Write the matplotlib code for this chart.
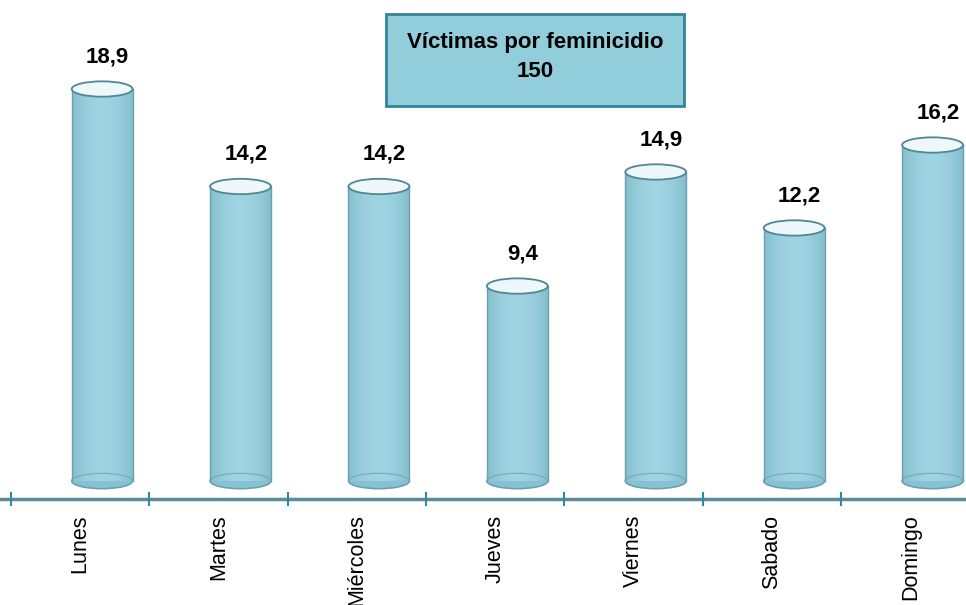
import numpy as np
import matplotlib
matplotlib.use("Agg")
import matplotlib.pyplot as plt
from matplotlib.patches import Ellipse, Rectangle
from matplotlib import font_manager

# data
days = ["Lunes", "Martes", "Miércoles", "Jueves", "Viernes", "Sabado", "Domingo"]
values = [18.9, 14.2, 14.2, 9.4, 14.9, 12.2, 16.2]
labels = ["18,9", "14,2", "14,2", "9,4", "14,9", "12,2", "16,2"]
box_title = "Víctimas por feminicidio\n150"

# narrow font if available
names = {f.name for f in font_manager.fontManager.ttflist}
narrow = "Liberation Sans Narrow" if "Liberation Sans Narrow" in names else "Liberation Sans"
plt.rcParams['font.family'] = [narrow, 'DejaVu Sans']

fig = plt.figure(figsize=(9.66, 6.05), dpi=100)
ax = fig.add_axes([0, 0, 1, 1])

# pixel layout -> data limits
px_per_cat = 138.4
px_per_unit = 20.74
x0_px = 80.0
y0_px = 481.0
ax.set_xlim(-x0_px / px_per_cat, (966 - x0_px) / px_per_cat)
ax.set_ylim(-(605 - y0_px) / px_per_unit, y0_px / px_per_unit)

x = np.arange(len(days))
off = 0.16       # cylinders sit a bit right of the category centre
bw = 0.44        # cylinder width
eh = 0.74        # ellipse height (in value units)

edge = "#6d9fad"
body = "#8ccadb"

# gradient for the cylinder bodies
grad = np.linspace(0, 1, 200)
shade = np.sin(np.pi * (grad * 0.9 + 0.05)) ** 0.7
cols = np.zeros((1, 200, 3))
base = np.array([0x78, 0xb4, 0xc4]) / 255
light = np.array([0x9f, 0xd4, 0xe2]) / 255
for i, s in enumerate(shade):
    cols[0, i] = base + (light - base) * s

bars = ax.bar(x + off, values, width=bw, color=body, edgecolor="none", zorder=2)
for b, v in zip(bars, values):
    im = ax.imshow(cols, extent=(b.get_x(), b.get_x() + b.get_width(), 0, v),
                   aspect="auto", zorder=2, interpolation="bilinear")
    im.set_clip_path(b)
    cx = b.get_x() + b.get_width() / 2
    # side lines
    ax.plot([b.get_x(), b.get_x()], [0, v], color=edge, lw=1.0, zorder=3)
    ax.plot([b.get_x() + bw, b.get_x() + bw], [0, v], color=edge, lw=1.0, zorder=3)
    # bottom ellipse
    ax.add_patch(Ellipse((cx, 0), bw, eh, facecolor="#86c2d3", edgecolor=edge,
                         lw=1.0, zorder=1))
    ax.add_patch(Ellipse((cx, 0), bw, eh, facecolor="none", edgecolor=edge,
                         lw=0.9, alpha=0.7, zorder=4))
    # top ellipse
    ax.add_patch(Ellipse((cx, v), bw, eh, facecolor="#eef7f9", edgecolor="#4f8796",
                         lw=1.3, zorder=5))

# value labels
for xi, v, t in zip(x, values, labels):
    ax.text(xi + off + 0.04, v + 1.55, t, ha="center", va="center",
            fontsize=16, fontweight="bold", color="black")

# category axis
axis_y = -18 / px_per_unit
ax.axhline(axis_y, color="#5b8c98", lw=2.5, zorder=1)
for t in np.arange(-0.5, len(days), 1.0):
    ax.plot([t, t], [axis_y - 0.3, axis_y + 0.3], color="#2b8aa8", lw=1.5, zorder=2)
for xi, d in zip(x, days):
    ax.text(xi, axis_y - 0.75, d, rotation=90, ha="center", va="top",
            fontsize=15.5, color="black")

# title box
ax.add_patch(Rectangle((386 / fig.bbox.width, 1 - 106 / fig.bbox.height),
                       298 / fig.bbox.width, 92 / fig.bbox.height,
                       transform=fig.transFigure, facecolor="#92cddc",
                       edgecolor="#31849b", lw=2, zorder=6))
ax.text(535 / fig.bbox.width, 1 - 57 / fig.bbox.height, box_title,
        transform=fig.transFigure, ha="center", va="center", fontsize=16,
        fontweight="bold", linespacing=1.45, zorder=7)

ax.axis("off")
fig.savefig("out.png", dpi=100)
